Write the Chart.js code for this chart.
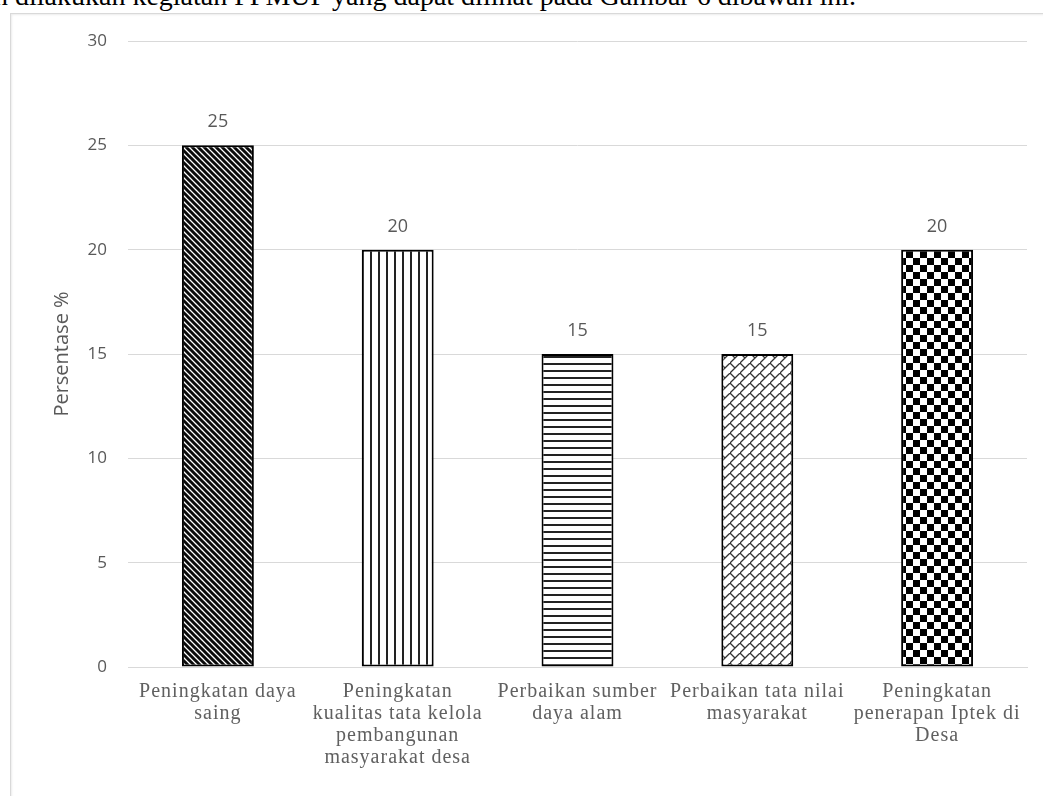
<!DOCTYPE html>
<html>
<head>
<meta charset="utf-8">
<script src="https://cdn.jsdelivr.net/npm/chart.js@4.4.0/dist/chart.umd.min.js"></script>
<style>
  html, body { margin: 0; padding: 0; background: #fff; overflow: hidden; }
  body { width: 1043px; height: 796px; position: relative; }
  #caption {
    position: absolute; left: -6px; top: -20px; white-space: nowrap;
    font-family: "Liberation Serif", serif; font-size: 28px; line-height: 32px; color: #000;
  }
  #frame {
    position: absolute; left: 10px; top: 13px; width: 1040px; height: 800px;
    border-left: 1px solid #d9d9d9; border-top: 1px solid #d9d9d9;
    box-shadow: 1px 1px 2px rgba(0,0,0,0.08) inset;
  }
  #wrap { position: absolute; left: 10px; top: 13px; width: 1033px; height: 783px; }
</style>
</head>
<body>
<div id="caption">n dilakukan kegiatan PPMUP yang dapat dilihat pada Gambar 6 dibawah ini.</div>
<div id="frame"></div>
<div id="wrap"><canvas id="chart"></canvas></div>
<script>
// data
const categories = [
    ['Peningkatan daya', 'saing'],
    ['Peningkatan', 'kualitas tata kelola', 'pembangunan', 'masyarakat desa'],
    ['Perbaikan sumber', 'daya alam'],
    ['Perbaikan tata nilai', 'masyarakat'],
    ['Peningkatan', 'penerapan Iptek di', 'Desa']
];
const values = [25, 20, 15, 15, 20];
const yTicks = [0, 5, 10, 15, 20, 25, 30];

// hatch fills, one per bar
function makePattern(w, h, draw) {
    const c = document.createElement('canvas');
    c.width = w; c.height = h;
    const g = c.getContext('2d');
    g.fillStyle = '#fff';
    g.fillRect(0, 0, w, h);
    draw(g, w, h);
    return document.getElementById('chart').getContext('2d').createPattern(c, 'repeat');
}

const diagDense = makePattern(6, 6, function(g, w, h) {
    g.strokeStyle = '#0a0a0a';
    g.lineWidth = 3;
    g.beginPath();
    g.moveTo(-1, -1); g.lineTo(w + 1, h + 1);
    g.moveTo(-1, h - 1); g.lineTo(1, h + 1);
    g.moveTo(w - 1, -1); g.lineTo(w + 1, 1);
    g.stroke();
});
const vertical = makePattern(8, 4, function(g, w, h) {
    g.fillStyle = '#222';
    g.fillRect(0, 0, 2, h);
});
const horizontal = makePattern(4, 7, function(g, w, h) {
    g.fillStyle = '#222';
    g.fillRect(0, 0, w, 2);
});
const brick = makePattern(10, 10, function(g, w, h) {
    g.strokeStyle = '#333';
    g.lineWidth = 1.3;
    g.beginPath();
    g.moveTo(-1, h + 1); g.lineTo(w + 1, -1);
    g.moveTo(0, 0); g.lineTo(5, 5);
    g.stroke();
});
const checker = makePattern(14, 14, function(g, w, h) {
    g.fillStyle = '#000';
    g.fillRect(0, 0, 7, 7);
    g.fillRect(7, 7, 7, 7);
});

// value labels above bars
const valueLabels = {
    id: 'valueLabels',
    afterDatasetsDraw(chart) {
        const ctx = chart.ctx;
        const meta = chart.getDatasetMeta(0);
        ctx.save();
        ctx.font = '18px "Open Sans"';
        ctx.fillStyle = '#595959';
        ctx.textAlign = 'center';
        ctx.textBaseline = 'middle';
        meta.data.forEach(function(bar, i) {
            ctx.fillText(values[i], bar.x, bar.y - 23);
        });
        ctx.restore();
    }
};

new Chart(document.getElementById('chart'), {
    type: 'bar',
    data: {
        labels: categories,
        datasets: [{
            data: values,
            backgroundColor: [diagDense, vertical, horizontal, brick, checker],
            borderColor: '#000',
            borderWidth: 2,
            borderSkipped: false,
            categoryPercentage: 0.4,
            barPercentage: 1
        }]
    },
    options: {
        responsive: true,
        maintainAspectRatio: false,
        animation: false,
        layout: { padding: { top: 28, right: 16, left: 0, bottom: 0 } },
        plugins: {
            legend: { display: false },
            tooltip: { enabled: false }
        },
        scales: {
            x: {
                grid: { display: false, drawTicks: false },
                border: { color: '#d9d9d9', width: 1 },
                ticks: {
                    padding: 14,
                    color: '#606060',
                    maxRotation: 0,
                    autoSkip: false,
                    font: { family: '"Liberation Serif", serif', size: 20, lineHeight: 1.1 }
                },
                afterFit(scale) { scale.height = 129; },
                afterUpdate(scale) {
                    // the labels in the figure are set a little wide
                    if (scale._spaced) return;
                    const draw = scale.drawLabels;
                    scale.drawLabels = function(area) {
                        this.ctx.letterSpacing = '1px';
                        draw.call(this, area);
                        this.ctx.letterSpacing = '0px';
                    };
                    scale._spaced = true;
                }
            },
            y: {
                min: 0,
                max: 30,
                afterBuildTicks(scale) { scale.ticks = yTicks.map(v => ({ value: v })); },
                grid: { color: '#d9d9d9', drawTicks: false },
                border: { display: false },
                ticks: {
                    padding: 21,
                    color: '#595959',
                    font: { family: '"Open Sans", sans-serif', size: 17 }
                },
                title: {
                    display: true,
                    text: 'Persentase %',
                    color: '#595959',
                    padding: { top: 40, bottom: 0 },
                    font: { family: '"Open Sans", sans-serif', size: 20 }
                },
                afterFit(scale) {
                    scale.width = 118;
                    scale.paddingTop = 0;
                    scale.paddingBottom = 0;
                }
            }
        }
    },
    plugins: [valueLabels]
});
</script>
</body>
</html>
